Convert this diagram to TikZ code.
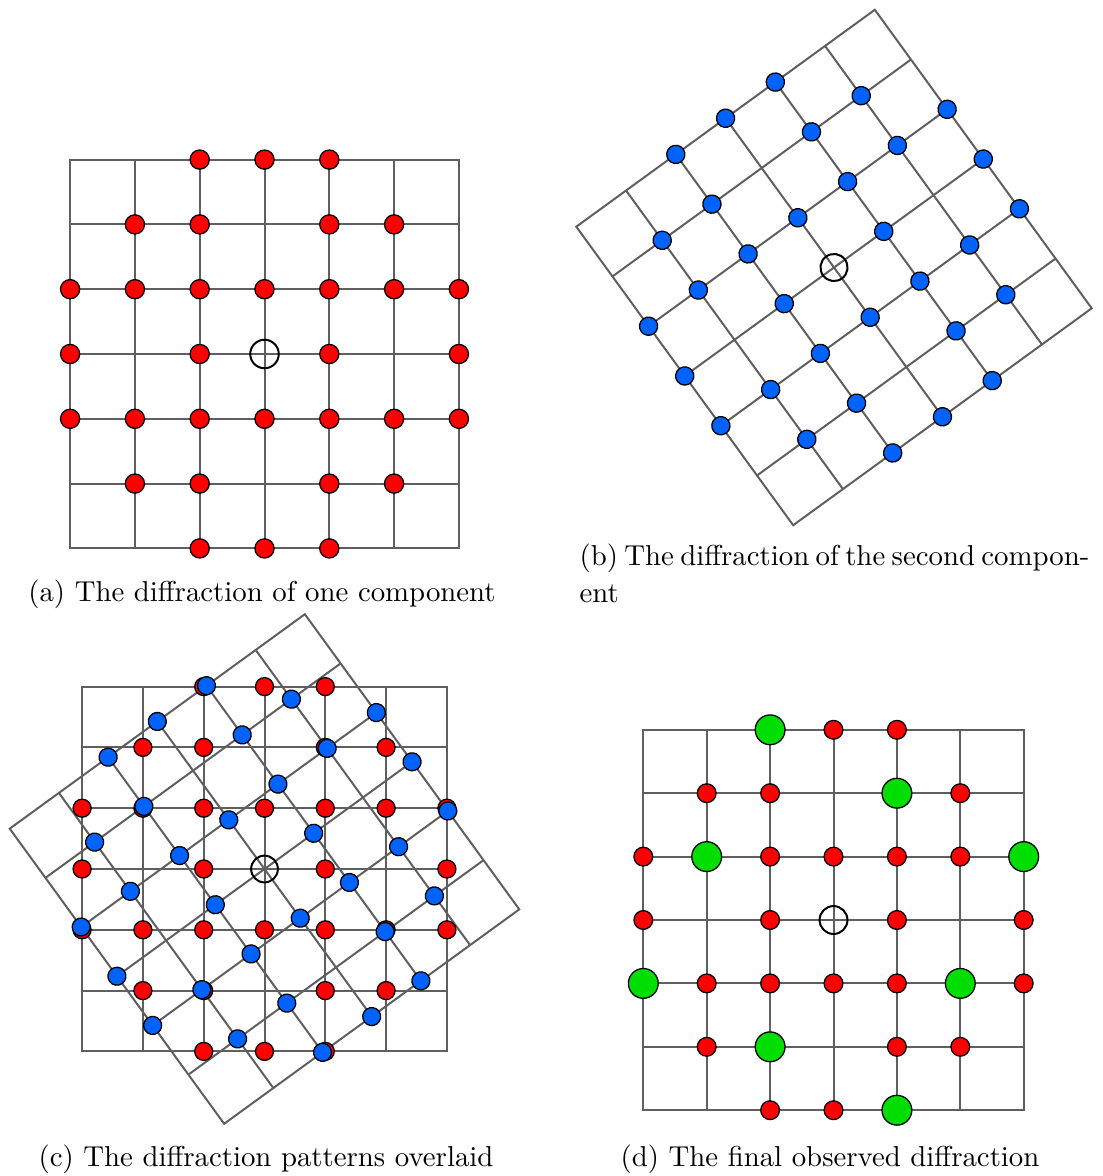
\documentclass[tikz,border=0pt]{standalone}
\usepackage{xcolor}
\usepackage{tikz}
\usetikzlibrary{positioning}

\definecolor{spotred}{RGB}{255,0,0}
\definecolor{spotblue}{RGB}{0,98,255}
\definecolor{spotgreen}{RGB}{0,221,0}
\definecolor{gridgray}{RGB}{95,95,95}

\newcommand{\spotlist}{-1/3,0/3,1/3,-2/2,-1/2,1/2,2/2,-3/1,-2/1,-1/1,0/1,1/1,2/1,3/1,-3/0,-1/0,1/0,3/0,-3/-1,-2/-1,-1/-1,0/-1,1/-1,2/-1,3/-1,-2/-2,-1/-2,1/-2,2/-2,-1/-3,0/-3,1/-3}
\newcommand{\matchlist}{-1/3,1/2,-2/1,3/1,-3/-1,2/-1,-1/-2,1/-3}
\newcommand{\lattice}{%
  \draw[latline] (-3,-3) rectangle (3,3);
  \foreach \k in {-2,...,2} {
    \draw[latline] (\k,-3) -- (\k,3);
    \draw[latline] (-3,\k) -- (3,\k);
  }}

\begin{document}
\begin{tikzpicture}[x=1pt, y=1pt,
    latline/.style={draw=gridgray, line width=2pt},
    redspot/.style={fill=spotred, draw=black, line width=1.3pt},
    bluespot/.style={fill=spotblue, draw=black, line width=1.3pt},
    greenspot/.style={fill=spotgreen, draw=black, line width=1.3pt},
    origin/.style={draw=black, line width=2pt},
    caption/.style={inner sep=0pt, scale=2.88, font=\fontsize{10}{12.8}\selectfont}]

    \useasboundingbox (0,0) rectangle (1103,-1176);

    % (a)
    \begin{scope}[shift={(264.5,-354)}, x=64.8pt, y=64.8pt]
        \lattice
        \foreach \i/\j in \spotlist
            \draw[redspot] (\i,\j) circle (0.148);
        \draw[origin] (0,0) circle (0.22);
    \end{scope}
    \node [caption, anchor=base] (capa) at (262,-601) {(a) The diffraction of one component};

    % (b)
    \begin{scope}[shift={(834,-267.5)}, rotate=36, x=61.5pt, y=61.5pt]
        \lattice
        \foreach \i/\j in \spotlist
            \draw[bluespot] (\i,\j) circle (0.148);
        \draw[origin] (0,0) circle (0.22);
    \end{scope}
    \node [caption, anchor=north west, align=left] (capb) at (579,-543) {\hbox to 176.5pt{(b) The diffraction of the second compon-}\\ent};

    % (c)
    \begin{scope}[shift={(264.5,-869)}, x=60.8pt, y=60.8pt]
        \lattice
        \begin{scope}[rotate=36]
            \lattice
        \end{scope}
        \foreach \i/\j in \spotlist
            \draw[redspot] (\i,\j) circle (0.148);
        \begin{scope}[rotate=36]
            \foreach \i/\j in \spotlist
                \draw[bluespot] (\i,\j) circle (0.148);
        \end{scope}
        \draw[origin] (0,0) circle (0.22);
    \end{scope}
    \node [caption, anchor=base] (capc) at (266,-1166) {(c) The diffraction patterns overlaid};

    % (d)
    \begin{scope}[shift={(833.5,-920)}, x=63.4pt, y=63.4pt]
        \lattice
        \foreach \i/\j in \spotlist
            \draw[redspot] (\i,\j) circle (0.148);
        \foreach \i/\j in \matchlist
            \draw[greenspot] (\i,\j) circle (0.235);
        \draw[origin] (0,0) circle (0.22);
    \end{scope}
    \node [caption, anchor=base] (capd) at (830,-1166) {(d) The final observed diffraction};
\end{tikzpicture}
\end{document}
